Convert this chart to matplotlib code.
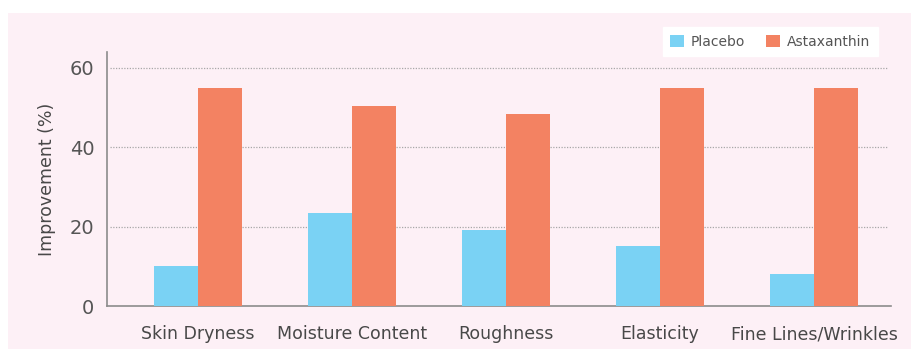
import numpy as np
import matplotlib.pyplot as plt
from matplotlib.patches import Rectangle

# Skin parameter improvement, placebo vs astaxanthin
categories = ["Skin Dryness", "Moisture Content", "Roughness", "Elasticity", "Fine Lines/Wrinkles"]
placebo = [10, 23.5, 19.2, 15.1, 8.1]
astaxanthin = [55, 50.3, 48.3, 55, 55]
yticks = [0, 20, 40, 60]

BLUE = "#7ad2f4"
ORANGE = "#f38262"
BG = "#fdf0f6"
TEXT = "#484848"

fig = plt.figure(figsize=(9.12, 3.49), dpi=100)
fig.patch.set_facecolor("white")
fig.patches.append(Rectangle((8 / 912, 0), 1, 1 - 13 / 349,
                             transform=fig.transFigure, facecolor=BG,
                             edgecolor="none", zorder=-10))

ax = fig.add_axes([107 / 912, 1 - 306 / 349, (891 - 107) / 912, (306 - 52) / 349])
ax.set_facecolor("none")

x = np.arange(len(categories))
w = 0.286
ax.bar(x - w / 2, placebo, w, color=BLUE, label="Placebo", zorder=3)
ax.bar(x + w / 2, astaxanthin, w, color=ORANGE, label="Astaxanthin", zorder=3)

ax.set_xlim(-0.59, 4.5)
ax.set_ylim(0, 64)
ax.set_yticks(yticks)
ax.set_xticks(x)
ax.set_xticklabels(categories, fontsize=12.5, color=TEXT)
ax.tick_params(axis="y", labelsize=14, labelcolor="#555555", length=0, pad=9)
ax.tick_params(axis="x", length=0, pad=14)
ax.set_ylabel("Improvement (%)", fontsize=12.5, color=TEXT, labelpad=10)

for v in yticks[1:]:
    ax.axhline(v, xmin=0.004, xmax=0.995, color="#a8a8a8", lw=0.9,
               ls=(0, (1, 1.2)), zorder=1)

for s in ["top", "right"]:
    ax.spines[s].set_visible(False)
for s in ["left", "bottom"]:
    ax.spines[s].set_color("#8c8c8c")
    ax.spines[s].set_linewidth(1.2)

leg = ax.legend(loc="upper right", bbox_to_anchor=(885 / 912, 1 - 20 / 349),
                bbox_transform=fig.transFigure, ncol=2, frameon=True,
                fontsize=10, handlelength=1.0, handleheight=1.0,
                handletextpad=0.5, columnspacing=1.5, borderpad=0.55,
                fancybox=False, edgecolor="white", framealpha=1)
for t in leg.get_texts():
    t.set_color("#555555")

fig.savefig("out.png", dpi=100, facecolor=fig.get_facecolor())
